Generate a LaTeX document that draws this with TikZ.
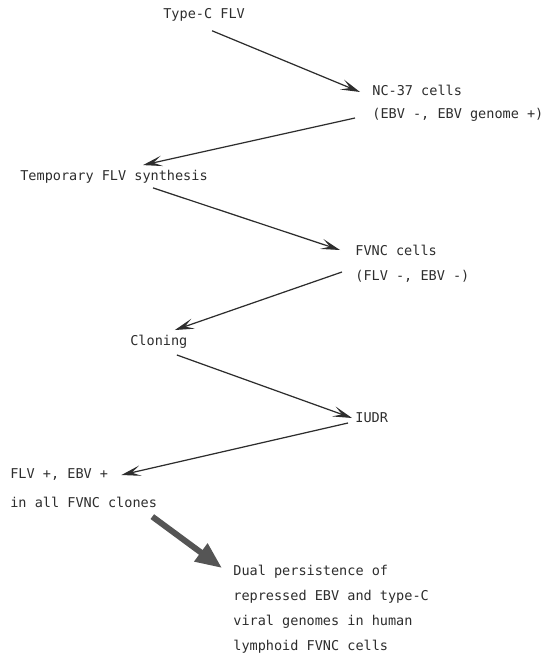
\documentclass[tikz,border=0pt]{standalone}
\usepackage{fontspec}
\newfontfamily\labelfont{DejaVu Sans Mono}
\usepackage{tikz}
\usetikzlibrary{arrows.meta,calc}
\definecolor{InkGray}{RGB}{45,45,45}
\definecolor{BigGray}{RGB}{85,85,85}

\begin{document}
\begin{tikzpicture}[x=0.02cm,y=-0.02cm,
    lbl/.style={anchor=west,inner sep=0pt,text=InkGray,
      font=\labelfont\fontsize{7.7}{14.2}\selectfont},
    arr/.style={-{Stealth[length=11pt,width=6pt,inset=5pt]},line width=0.7pt,draw=InkGray},
    bigarr/.style={-{Triangle[length=15pt,width=12pt]},line width=3.4pt,draw=BigGray}]
  \useasboundingbox (0,0) rectangle (547,655);
  % Steps of the scheme
  \node[lbl] (typec) at (163,15) {Type-C FLV};
  \node[lbl] (nc1) at (372,90) {NC-37 cells};
  \node[lbl] (nc2) at (372,115) {(EBV -, EBV genome +)};
  \node[lbl] (temp) at (20,177) {Temporary FLV synthesis};
  \node[lbl] (fvnc1) at (355,250) {FVNC cells};
  \node[lbl] (fvnc2) at (355,276) {(FLV -, EBV -)};
  \node[lbl] (clon) at (130,342) {Cloning};
  \node[lbl] (iudr) at (355,418) {IUDR};
  \node[lbl] (pos1) at (10,475) {FLV +, EBV +};
  \node[lbl] (pos2) at (10,502) {in all FVNC clones};
  \node[lbl,anchor=north west,align=left] (dual) at (233,565)
    {Dual persistence of\\repressed EBV and type-C\\viral genomes in human\\lymphoid FVNC cells};
  % Zig-zag arrows
  \draw[arr] ($(typec.south)+(8,9)$) -- ($(nc1.west)+(-12,2)$);
  \draw[arr] ($(nc2.west)+(-17,3)$) -- ($(temp.north)+(29,-5)$);
  \draw[arr] ($(temp.south)+(39,4)$) -- ($(fvnc1.west)+(-15,0)$);
  \draw[arr] ($(fvnc2.west)+(-13,-4)$) -- ($(clon.north)+(16,-5)$);
  \draw[arr] ($(clon.south)+(18,6)$) -- ($(iudr.west)+(-3,0)$);
  \draw[arr] ($(iudr.west)+(-7,5)$) -- ($(pos1.east)+(13,0)$);
  % Conclusion
  \draw[bigarr] ($(pos2.south east)+(-5,9)$) -- ($(dual.north west)+(-11,3)$);
\end{tikzpicture}
\end{document}
